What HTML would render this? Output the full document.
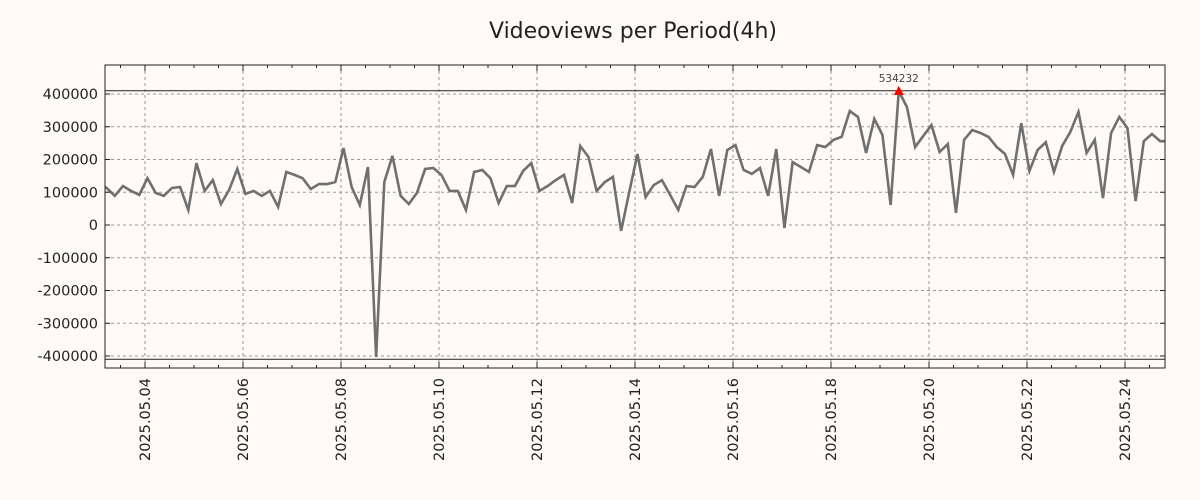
<!DOCTYPE html>
<html><head><meta charset="utf-8"><style>
html,body{margin:0;padding:0;background:#fffaf6;}
svg{display:block;font-family:"DejaVu Sans","Liberation Sans",sans-serif;}
</style></head><body>
<svg id="chart" width="1200" height="500" viewBox="0 0 1200 500" xmlns="http://www.w3.org/2000/svg">
<rect x="0" y="0" width="1200" height="500" fill="#fffaf6"/>
<text x="633" y="38" text-anchor="middle" font-size="22" fill="#222">Videoviews per Period(4h)</text>
<g id="grid"></g>
<g id="refs"></g>
<defs><clipPath id="clip"><rect x="105" y="65" width="1060" height="303"/></clipPath></defs>
<g id="series" clip-path="url(#clip)"></g>
<g id="axes"></g>
</svg>
<script>
// data (values in views per 4h period)
const startDay = -0.95; // days relative to 2025-05-04 00:00
const stepDays = 1/6;
const views = [131000,113000,89000,119000,104000,92000,143000,98000,89000,113000,116000,
46000,189000,104000,137000,64000,107000,171000,95000,104000,89000,
104000,55000,162000,153000,143000,110000,125000,125000,131000,235000,
116000,61000,177000,-403000,
131000,211000,89000,64000,98000,171000,174000,153000,104000,104000,
46000,162000,168000,143000,67000,119000,119000,165000,189000,104000,
119000,137000,153000,67000,241000,208000,104000,131000,147000,-18000,
101000,217000,85000,122000,137000,92000,46000,119000,116000,147000,
232000,89000,229000,244000,168000,156000,174000,89000,232000,-9000,
192000,177000,162000,244000,238000,260000,269000,348000,330000,220000,
324000,275000,61000,409000,
360000,238000,272000,305000,223000,247000,37000,260000,290000,281000,
269000,238000,217000,153000,311000,165000,229000,253000,162000,241000,
284000,345000,220000,260000,82000,281000,330000,296000,73000,256000,
278000,256000,256000];
const yTicks = [400000,300000,200000,100000,0,-100000,-200000,-300000,-400000];
const xTickDays = [0,2,4,6,8,10,12,14,16,18,20];
const xTickLabels = ["2025.05.04","2025.05.06","2025.05.08","2025.05.10","2025.05.12","2025.05.14","2025.05.16","2025.05.18","2025.05.20","2025.05.22","2025.05.24"];
const refValues = [410000,-410000];
const peakLabel = "534232";

const L=105,R=1165,T=65,B=368;
const xs = d => 145 + 49*d;
const ys = v => 225 - v*32.75/100000;
const NS="http://www.w3.org/2000/svg";
function mk(tag, parent, attrs){const e=document.createElementNS(NS,tag);for(const k in attrs)e.setAttribute(k,attrs[k]);parent.appendChild(e);return e;}
const grid=document.getElementById('grid'), axes=document.getElementById('axes'), series=document.getElementById('series'), refs=document.getElementById('refs');

yTicks.forEach(v=>{
  const y=ys(v);
  const g=mk('line',grid,{x1:L,x2:R,y1:y,y2:y,stroke:'#999','stroke-width':1,'stroke-dasharray':'3,3'});
  
  
  mk('line',axes,{x1:L,x2:L+5,y1:y,y2:y,stroke:'#222'});
  mk('line',axes,{x1:R-5,x2:R,y1:y,y2:y,stroke:'#222'});
  const t=mk('text',axes,{x:98,y:y+5,'text-anchor':'end','font-size':14.5,fill:'#222'});
  t.textContent=v;
  
  
});
xTickDays.forEach((d,i)=>{
  const x=xs(d);
  const g=mk('line',grid,{x1:x,x2:x,y1:T,y2:B,stroke:'#999','stroke-width':1,'stroke-dasharray':'3,3'});
  
  
  const t=mk('text',axes,{x:0,y:0,'text-anchor':'end','font-size':14.5,fill:'#222',transform:`translate(${x+5},378) rotate(-90)`});
  t.textContent=xTickLabels[i];
  
  
});
for(let d=-0.5; xs(d)<R; d+=0.5){
  const x=xs(d); if(x<L) continue;
  const major=Math.abs(d-Math.round(d/2)*2)<1e-6;
  const len=major?6:3;
  mk('line',axes,{x1:x,x2:x,y1:B,y2:B-len,stroke:'#222'});
  mk('line',axes,{x1:x,x2:x,y1:T,y2:T+len,stroke:'#222'});
}
refValues.forEach(v=>{
  const y=ys(v);
  const l=mk('line',refs,{x1:L,x2:R,y1:y,y2:y,stroke:'#222','stroke-width':1});
  
  
});
const pts=views.map((v,i)=>[xs(startDay+i*stepDays),ys(v)]);
const pl=mk('polyline',series,{points:pts.map(p=>p.join(',')).join(' '),fill:'none',stroke:'#707070','stroke-width':2.6,'stroke-linejoin':'miter'});


// peak marker
let pi=0; views.forEach((v,i)=>{if(v>views[pi])pi=i;});
const [px,py]=pts[pi];
const tri=mk('polygon',axes,{points:`${px-5},${py+4} ${px+5},${py+4} ${px},${py-5}`,fill:'#ff0000'});


const pt=mk('text',axes,{x:px,y:py-9,'text-anchor':'middle','font-size':10.5,fill:'#444'});
pt.textContent=peakLabel;


const fr=mk('rect',axes,{x:L,y:T,width:R-L,height:B-T,fill:'none',stroke:'#222','stroke-width':1});


</script>
</body></html>
